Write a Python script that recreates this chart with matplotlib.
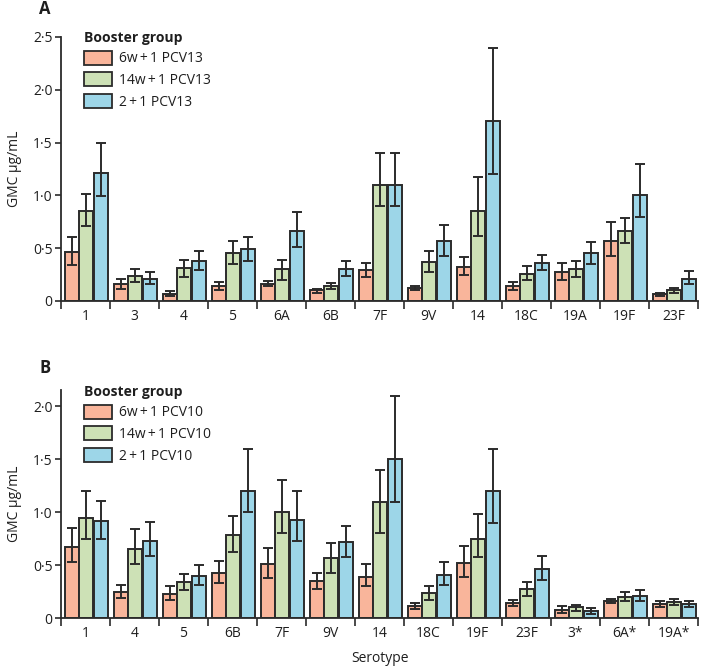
import matplotlib
matplotlib.use("Agg")
import matplotlib.pyplot as plt
import numpy as np
from matplotlib.patches import Patch

plt.rcParams['font.family'] = ['Open Sans', 'DejaVu Sans']

# ---------------- Panel A data (PCV13) ----------------
sero_a = ["1", "3", "4", "5", "6A", "6B", "7F", "9V", "14", "18C", "19A", "19F", "23F"]
a_6w = [0.46, 0.16, 0.07, 0.14, 0.16, 0.10, 0.29, 0.12, 0.32, 0.14, 0.27, 0.57, 0.07]
a_6w_lo = [0.34, 0.11, 0.05, 0.10, 0.14, 0.08, 0.23, 0.10, 0.25, 0.10, 0.20, 0.43, 0.05]
a_6w_hi = [0.61, 0.21, 0.09, 0.18, 0.19, 0.11, 0.36, 0.14, 0.42, 0.18, 0.36, 0.75, 0.08]
a_14w = [0.85, 0.24, 0.31, 0.45, 0.30, 0.14, 1.10, 0.37, 0.85, 0.26, 0.30, 0.66, 0.10]
a_14w_lo = [0.71, 0.18, 0.23, 0.35, 0.20, 0.11, 0.90, 0.27, 0.62, 0.20, 0.23, 0.55, 0.08]
a_14w_hi = [1.01, 0.30, 0.39, 0.57, 0.39, 0.17, 1.40, 0.47, 1.17, 0.33, 0.38, 0.79, 0.12]
a_21 = [1.21, 0.21, 0.38, 0.49, 0.66, 0.30, 1.10, 0.57, 1.70, 0.36, 0.45, 1.00, 0.21]
a_21_lo = [0.99, 0.16, 0.29, 0.38, 0.51, 0.24, 0.90, 0.43, 1.20, 0.29, 0.35, 0.80, 0.16]
a_21_hi = [1.50, 0.27, 0.47, 0.61, 0.84, 0.38, 1.40, 0.72, 2.40, 0.44, 0.56, 1.30, 0.28]
labels_a = ["6w\u2009+\u20091 PCV13", "14w\u2009+\u20091 PCV13", "2\u2009+\u20091 PCV13"]

# ---------------- Panel B data (PCV10) ----------------
sero_b = ["1", "4", "5", "6B", "7F", "9V", "14", "18C", "19F", "23F", "3*", "6A*", "19A*"]
b_6w = [0.67, 0.25, 0.23, 0.43, 0.51, 0.35, 0.39, 0.11, 0.52, 0.14, 0.08, 0.16, 0.13]
b_6w_lo = [0.53, 0.19, 0.17, 0.33, 0.38, 0.27, 0.30, 0.085, 0.39, 0.11, 0.05, 0.14, 0.10]
b_6w_hi = [0.85, 0.31, 0.30, 0.54, 0.66, 0.43, 0.51, 0.14, 0.68, 0.17, 0.11, 0.18, 0.16]
b_14w = [0.95, 0.65, 0.34, 0.78, 1.00, 0.57, 1.10, 0.24, 0.75, 0.27, 0.10, 0.20, 0.15]
b_14w_lo = [0.75, 0.51, 0.26, 0.62, 0.80, 0.43, 0.80, 0.17, 0.58, 0.21, 0.07, 0.16, 0.12]
b_14w_hi = [1.20, 0.84, 0.42, 0.96, 1.30, 0.71, 1.40, 0.30, 0.98, 0.34, 0.12, 0.25, 0.18]
b_21 = [0.92, 0.73, 0.40, 1.20, 0.93, 0.72, 1.50, 0.41, 1.20, 0.46, 0.07, 0.21, 0.13]
b_21_lo = [0.75, 0.59, 0.31, 1.00, 0.73, 0.58, 1.10, 0.31, 0.90, 0.36, 0.04, 0.16, 0.10]
b_21_hi = [1.11, 0.91, 0.50, 1.60, 1.20, 0.87, 2.10, 0.53, 1.60, 0.59, 0.09, 0.26, 0.16]
labels_b = ["6w\u2009+\u20091 PCV10", "14w\u2009+\u20091 PCV10", "2\u2009+\u20091 PCV10"]

colors = ["#F9B59B", "#CDE1B6", "#9DD6E8"]
edge = "#2b2b2b"
txt = "#1e1e1e"
FS = 10

W, H = 702, 667
fig = plt.figure(figsize=(W / 100, H / 100), dpi=100)

def fmt(v):
    if v == 0:
        return "0"
    return f"{v:.1f}".replace(".", "\u00b7")

def panel(rect, cats, series, ylim, yticks, legend_labels, letter, letter_xy, show_xlabel):
    ax = fig.add_axes(rect)
    n = len(cats)
    x = np.arange(n)
    bw = 0.285
    for i, (vals, lo, hi) in enumerate(series):
        pos = x + (i - 1) * (bw + 0.004) + 0.02
        vals = np.array(vals); lo = np.array(lo); hi = np.array(hi)
        ax.bar(pos, vals, width=bw, color=colors[i], edgecolor=edge, linewidth=1.4, zorder=2)
        ax.errorbar(pos, vals, yerr=[vals - lo, hi - vals], fmt="none", ecolor=edge,
                    elinewidth=1.4, capsize=3.4, capthick=1.4, zorder=3)
    ax.set_xlim(-0.5, n - 0.5)
    ax.set_ylim(*ylim)
    for s in ["top", "right"]:
        ax.spines[s].set_visible(False)
    for s in ["left", "bottom"]:
        ax.spines[s].set_linewidth(1.3)
        ax.spines[s].set_color(edge)
    ax.set_yticks(yticks)
    ax.set_yticklabels([fmt(v) for v in yticks], fontsize=FS, color=txt)
    ax.tick_params(axis="y", direction="out", length=4, width=1.2, color=edge, pad=2)
    ax.set_xticks(np.arange(-0.5, n, 1.0), minor=True)
    ax.set_xticks(x)
    ax.set_xticklabels(cats, fontsize=FS, color=txt)
    ax.tick_params(axis="x", which="major", length=0, pad=6)
    ax.tick_params(axis="x", which="minor", direction="out", length=6, width=1.2, color=edge)
    ax.set_ylabel("GMC \u03bcg/mL", fontsize=FS, color=txt, labelpad=8)
    if show_xlabel:
        ax.set_xlabel("Serotype", fontsize=FS, color=txt, labelpad=7)
    handles = [Patch(facecolor=colors[i], edgecolor=edge, linewidth=1.3) for i in range(3)]
    leg = ax.legend(handles, legend_labels, loc="upper left", bbox_to_anchor=(0.028, 1.045),
                    frameon=False, fontsize=FS, title="Booster group",
                    title_fontproperties={"weight": "bold", "size": FS},
                    handlelength=2.0, handleheight=1.2, handletextpad=0.5,
                    labelspacing=0.42, borderaxespad=0, alignment="left")
    for t in leg.get_texts():
        t.set_color(txt)
    leg.get_title().set_color(txt)
    fig.text(letter_xy[0] / W, 1 - letter_xy[1] / H, letter, fontsize=12, fontweight="bold",
             color=txt, ha="center", va="center")
    return ax

# Panel A: y=0 at px 301, y=2.5 at px 37
panel([61 / W, 1 - 301 / H, 637 / W, 264 / H], sero_a,
      [(a_6w, a_6w_lo, a_6w_hi), (a_14w, a_14w_lo, a_14w_hi), (a_21, a_21_lo, a_21_hi)],
      (0, 2.5), [0, 0.5, 1.0, 1.5, 2.0, 2.5], labels_a, "A", (45, 9), False)

# Panel B: y=0 at px 618, ylim top 2.16 at px 389.5
panel([61 / W, 1 - 618 / H, 637 / W, 228.5 / H], sero_b,
      [(b_6w, b_6w_lo, b_6w_hi), (b_14w, b_14w_lo, b_14w_hi), (b_21, b_21_lo, b_21_hi)],
      (0, 2.16), [0, 0.5, 1.0, 1.5, 2.0], labels_b, "B", (45, 368), True)

fig.savefig("out.png", dpi=100)
